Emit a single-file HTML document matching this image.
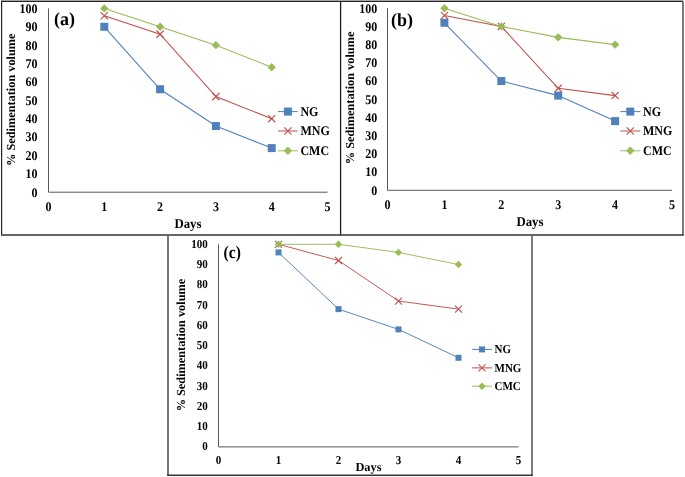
<!DOCTYPE html>
<html><head><meta charset="utf-8"><style>
html,body{margin:0;padding:0;background:#fff;}
body{width:685px;height:477px;overflow:hidden;}
svg{display:block;will-change:transform;}
text{font-family:"Liberation Serif",serif;font-weight:bold;fill:#000;text-rendering:geometricPrecision;}
</style></head><body>
<svg width="685" height="477" viewBox="0 0 685 477">
<rect x="0" y="0" width="685" height="477" fill="#fff"/>
<line x1="1" y1="0.45" x2="683.5" y2="0.45" stroke="#c4c4c4" stroke-width="0.9"/>
<path d="M1.6 235V1.4H683" fill="none" stroke="#252525" stroke-width="1.2"/>
<line x1="340.6" y1="1.4" x2="340.6" y2="235" stroke="#1e1e1e" stroke-width="1.3"/>
<line x1="683" y1="1.4" x2="683" y2="235" stroke="#666" stroke-width="1.7"/>
<line x1="1" y1="235" x2="683.8" y2="235" stroke="#333" stroke-width="1.6"/>
<line x1="168" y1="235" x2="168" y2="475.2" stroke="#6a6a6a" stroke-width="1.8"/>
<line x1="532" y1="235" x2="532" y2="475.2" stroke="#707070" stroke-width="1.8"/>
<line x1="167.1" y1="475.2" x2="532.9" y2="475.2" stroke="#363636" stroke-width="1.5"/>
<path d="M48.50 8.40V192.20H327.50" fill="none" stroke="#595959" stroke-width="1"/>
<text transform="translate(37.60,196.60) scale(1,1.1)" font-size="12" text-anchor="end">0</text>
<text transform="translate(37.60,178.22) scale(1,1.1)" font-size="12" text-anchor="end">10</text>
<text transform="translate(37.60,159.84) scale(1,1.1)" font-size="12" text-anchor="end">20</text>
<text transform="translate(37.60,141.46) scale(1,1.1)" font-size="12" text-anchor="end">30</text>
<text transform="translate(37.60,123.08) scale(1,1.1)" font-size="12" text-anchor="end">40</text>
<text transform="translate(37.60,104.70) scale(1,1.1)" font-size="12" text-anchor="end">50</text>
<text transform="translate(37.60,86.32) scale(1,1.1)" font-size="12" text-anchor="end">60</text>
<text transform="translate(37.60,67.94) scale(1,1.1)" font-size="12" text-anchor="end">70</text>
<text transform="translate(37.60,49.56) scale(1,1.1)" font-size="12" text-anchor="end">80</text>
<text transform="translate(37.60,31.18) scale(1,1.1)" font-size="12" text-anchor="end">90</text>
<text transform="translate(37.60,12.80) scale(1,1.1)" font-size="12" text-anchor="end">100</text>
<text transform="translate(48.50,210.60) scale(1,1.1)" font-size="12" text-anchor="middle">0</text>
<text transform="translate(104.30,210.60) scale(1,1.1)" font-size="12" text-anchor="middle">1</text>
<text transform="translate(160.10,210.60) scale(1,1.1)" font-size="12" text-anchor="middle">2</text>
<text transform="translate(215.90,210.60) scale(1,1.1)" font-size="12" text-anchor="middle">3</text>
<text transform="translate(271.70,210.60) scale(1,1.1)" font-size="12" text-anchor="middle">4</text>
<text transform="translate(327.50,210.60) scale(1,1.1)" font-size="12" text-anchor="middle">5</text>
<text transform="translate(188.00,227.90) scale(1,1.05)" font-size="12.8" text-anchor="middle">Days</text>
<text transform="translate(15.00,99.70) rotate(-90) scale(1,1)" text-anchor="middle" font-size="12.3">% Sedimentation volume</text>
<text transform="translate(54.00,24.80) scale(1,1.03)" font-size="18">(a)</text>
<polyline points="104.30,26.78 160.10,89.27 215.90,126.03 271.70,148.09" fill="none" stroke="#4F81BD" stroke-width="1.1"/>
<rect x="100.30" y="22.78" width="8" height="8" fill="#4F81BD"/>
<rect x="156.10" y="85.27" width="8" height="8" fill="#4F81BD"/>
<rect x="211.90" y="122.03" width="8" height="8" fill="#4F81BD"/>
<rect x="267.70" y="144.09" width="8" height="8" fill="#4F81BD"/>
<polyline points="104.30,15.75 160.10,34.13 215.90,96.62 271.70,118.68" fill="none" stroke="#C0504D" stroke-width="1.1"/>
<path d="M100.70 12.15L107.90 19.35M107.90 12.15L100.70 19.35" stroke="#C0504D" stroke-width="1.15" fill="none"/>
<path d="M156.50 30.53L163.70 37.73M163.70 30.53L156.50 37.73" stroke="#C0504D" stroke-width="1.15" fill="none"/>
<path d="M212.30 93.02L219.50 100.22M219.50 93.02L212.30 100.22" stroke="#C0504D" stroke-width="1.15" fill="none"/>
<path d="M268.10 115.08L275.30 122.28M275.30 115.08L268.10 122.28" stroke="#C0504D" stroke-width="1.15" fill="none"/>
<polyline points="104.30,8.40 160.10,26.78 215.90,45.16 271.70,67.22" fill="none" stroke="#9BBB59" stroke-width="1.1"/>
<path d="M104.30 4.20L108.50 8.40L104.30 12.60L100.10 8.40Z" fill="#9BBB59"/>
<path d="M160.10 22.58L164.30 26.78L160.10 30.98L155.90 26.78Z" fill="#9BBB59"/>
<path d="M215.90 40.96L220.10 45.16L215.90 49.36L211.70 45.16Z" fill="#9BBB59"/>
<path d="M271.70 63.02L275.90 67.22L271.70 71.42L267.50 67.22Z" fill="#9BBB59"/>
<line x1="278" y1="111.6" x2="297.6" y2="111.6" stroke="#4F81BD" stroke-width="1"/>
<rect x="283.90" y="107.60" width="8" height="8" fill="#4F81BD"/>
<text transform="translate(300.40,115.60) scale(1,1.1)" font-size="12">NG</text>
<line x1="278" y1="131" x2="297.6" y2="131" stroke="#C0504D" stroke-width="1"/>
<path d="M284.30 127.40L291.50 134.60M291.50 127.40L284.30 134.60" stroke="#C0504D" stroke-width="1.15" fill="none"/>
<text transform="translate(300.40,135.00) scale(1,1.1)" font-size="12">MNG</text>
<line x1="278" y1="150.8" x2="297.6" y2="150.8" stroke="#9BBB59" stroke-width="1"/>
<path d="M287.90 146.60L292.10 150.80L287.90 155.00L283.70 150.80Z" fill="#9BBB59"/>
<text transform="translate(300.40,154.80) scale(1,1.1)" font-size="12">CMC</text>
<path d="M387.50 8.20V190.30H672.00" fill="none" stroke="#595959" stroke-width="1"/>
<text transform="translate(377.30,194.70) scale(1,1.1)" font-size="12" text-anchor="end">0</text>
<text transform="translate(377.30,176.49) scale(1,1.1)" font-size="12" text-anchor="end">10</text>
<text transform="translate(377.30,158.28) scale(1,1.1)" font-size="12" text-anchor="end">20</text>
<text transform="translate(377.30,140.07) scale(1,1.1)" font-size="12" text-anchor="end">30</text>
<text transform="translate(377.30,121.86) scale(1,1.1)" font-size="12" text-anchor="end">40</text>
<text transform="translate(377.30,103.65) scale(1,1.1)" font-size="12" text-anchor="end">50</text>
<text transform="translate(377.30,85.44) scale(1,1.1)" font-size="12" text-anchor="end">60</text>
<text transform="translate(377.30,67.23) scale(1,1.1)" font-size="12" text-anchor="end">70</text>
<text transform="translate(377.30,49.02) scale(1,1.1)" font-size="12" text-anchor="end">80</text>
<text transform="translate(377.30,30.81) scale(1,1.1)" font-size="12" text-anchor="end">90</text>
<text transform="translate(377.30,12.60) scale(1,1.1)" font-size="12" text-anchor="end">100</text>
<text transform="translate(387.50,209.00) scale(1,1.1)" font-size="12" text-anchor="middle">0</text>
<text transform="translate(444.40,209.00) scale(1,1.1)" font-size="12" text-anchor="middle">1</text>
<text transform="translate(501.30,209.00) scale(1,1.1)" font-size="12" text-anchor="middle">2</text>
<text transform="translate(558.20,209.00) scale(1,1.1)" font-size="12" text-anchor="middle">3</text>
<text transform="translate(615.10,209.00) scale(1,1.1)" font-size="12" text-anchor="middle">4</text>
<text transform="translate(672.00,209.00) scale(1,1.1)" font-size="12" text-anchor="middle">5</text>
<text transform="translate(530.00,225.90) scale(1,1.05)" font-size="12.8" text-anchor="middle">Days</text>
<text transform="translate(354.20,97.90) rotate(-90) scale(1,1)" text-anchor="middle" font-size="12.3">% Sedimentation volume</text>
<text transform="translate(391.00,25.90) scale(1,1.03)" font-size="18">(b)</text>
<polyline points="444.40,22.77 501.30,81.04 558.20,95.61 615.10,121.10" fill="none" stroke="#4F81BD" stroke-width="1.1"/>
<rect x="440.40" y="18.77" width="8" height="8" fill="#4F81BD"/>
<rect x="497.30" y="77.04" width="8" height="8" fill="#4F81BD"/>
<rect x="554.20" y="91.61" width="8" height="8" fill="#4F81BD"/>
<rect x="611.10" y="117.10" width="8" height="8" fill="#4F81BD"/>
<polyline points="444.40,15.48 501.30,26.41 558.20,88.32 615.10,95.61" fill="none" stroke="#C0504D" stroke-width="1.1"/>
<path d="M440.80 11.88L448.00 19.08M448.00 11.88L440.80 19.08" stroke="#C0504D" stroke-width="1.15" fill="none"/>
<path d="M497.70 22.81L504.90 30.01M504.90 22.81L497.70 30.01" stroke="#C0504D" stroke-width="1.15" fill="none"/>
<path d="M554.60 84.72L561.80 91.92M561.80 84.72L554.60 91.92" stroke="#C0504D" stroke-width="1.15" fill="none"/>
<path d="M611.50 92.01L618.70 99.21M618.70 92.01L611.50 99.21" stroke="#C0504D" stroke-width="1.15" fill="none"/>
<polyline points="444.40,8.20 501.30,26.41 558.20,37.34 615.10,44.62" fill="none" stroke="#9BBB59" stroke-width="1.1"/>
<path d="M444.40 4.00L448.60 8.20L444.40 12.40L440.20 8.20Z" fill="#9BBB59"/>
<path d="M501.30 22.21L505.50 26.41L501.30 30.61L497.10 26.41Z" fill="#9BBB59"/>
<path d="M558.20 33.14L562.40 37.34L558.20 41.54L554.00 37.34Z" fill="#9BBB59"/>
<path d="M615.10 40.42L619.30 44.62L615.10 48.82L610.90 44.62Z" fill="#9BBB59"/>
<line x1="620.3" y1="111.6" x2="640.4" y2="111.6" stroke="#4F81BD" stroke-width="1"/>
<rect x="626.30" y="107.60" width="8" height="8" fill="#4F81BD"/>
<text transform="translate(643.00,115.60) scale(1,1.1)" font-size="12">NG</text>
<line x1="620.3" y1="131" x2="640.4" y2="131" stroke="#C0504D" stroke-width="1"/>
<path d="M626.70 127.40L633.90 134.60M633.90 127.40L626.70 134.60" stroke="#C0504D" stroke-width="1.15" fill="none"/>
<text transform="translate(643.00,135.00) scale(1,1.1)" font-size="12">MNG</text>
<line x1="620.3" y1="150.8" x2="640.4" y2="150.8" stroke="#9BBB59" stroke-width="1"/>
<path d="M630.30 146.60L634.50 150.80L630.30 155.00L626.10 150.80Z" fill="#9BBB59"/>
<text transform="translate(643.00,154.80) scale(1,1.1)" font-size="12">CMC</text>
<path d="M218.50 244.30V446.90H518.50" fill="none" stroke="#595959" stroke-width="1"/>
<text transform="translate(207.70,450.40) scale(1,1.1)" font-size="11" text-anchor="end">0</text>
<text transform="translate(207.70,430.14) scale(1,1.1)" font-size="11" text-anchor="end">10</text>
<text transform="translate(207.70,409.88) scale(1,1.1)" font-size="11" text-anchor="end">20</text>
<text transform="translate(207.70,389.62) scale(1,1.1)" font-size="11" text-anchor="end">30</text>
<text transform="translate(207.70,369.36) scale(1,1.1)" font-size="11" text-anchor="end">40</text>
<text transform="translate(207.70,349.10) scale(1,1.1)" font-size="11" text-anchor="end">50</text>
<text transform="translate(207.70,328.84) scale(1,1.1)" font-size="11" text-anchor="end">60</text>
<text transform="translate(207.70,308.58) scale(1,1.1)" font-size="11" text-anchor="end">70</text>
<text transform="translate(207.70,288.32) scale(1,1.1)" font-size="11" text-anchor="end">80</text>
<text transform="translate(207.70,268.06) scale(1,1.1)" font-size="11" text-anchor="end">90</text>
<text transform="translate(207.70,247.80) scale(1,1.1)" font-size="11" text-anchor="end">100</text>
<text transform="translate(218.50,464.00) scale(1,1.1)" font-size="11" text-anchor="middle">0</text>
<text transform="translate(278.50,464.00) scale(1,1.1)" font-size="11" text-anchor="middle">1</text>
<text transform="translate(338.50,464.00) scale(1,1.1)" font-size="11" text-anchor="middle">2</text>
<text transform="translate(398.50,464.00) scale(1,1.1)" font-size="11" text-anchor="middle">3</text>
<text transform="translate(458.50,464.00) scale(1,1.1)" font-size="11" text-anchor="middle">4</text>
<text transform="translate(518.50,464.00) scale(1,1.1)" font-size="11" text-anchor="middle">5</text>
<text x="368.50" y="471.00" font-size="12.4" text-anchor="middle">Days</text>
<text transform="translate(184.80,345.10) rotate(-90) scale(1,1)" text-anchor="middle" font-size="12.3">% Sedimentation volume</text>
<text transform="translate(223.60,257.60) scale(1,1.13)" font-size="15.5">(c)</text>
<polyline points="278.50,252.40 338.50,309.13 398.50,329.39 458.50,357.76" fill="none" stroke="#4F81BD" stroke-width="0.95"/>
<rect x="275.50" y="249.40" width="6" height="6" fill="#4F81BD"/>
<rect x="335.50" y="306.13" width="6" height="6" fill="#4F81BD"/>
<rect x="395.50" y="326.39" width="6" height="6" fill="#4F81BD"/>
<rect x="455.50" y="354.76" width="6" height="6" fill="#4F81BD"/>
<polyline points="278.50,244.30 338.50,260.51 398.50,301.03 458.50,309.13" fill="none" stroke="#C0504D" stroke-width="0.95"/>
<path d="M275.00 240.80L282.00 247.80M282.00 240.80L275.00 247.80" stroke="#C0504D" stroke-width="1.1" fill="none"/>
<path d="M335.00 257.01L342.00 264.01M342.00 257.01L335.00 264.01" stroke="#C0504D" stroke-width="1.1" fill="none"/>
<path d="M395.00 297.53L402.00 304.53M402.00 297.53L395.00 304.53" stroke="#C0504D" stroke-width="1.1" fill="none"/>
<path d="M455.00 305.63L462.00 312.63M462.00 305.63L455.00 312.63" stroke="#C0504D" stroke-width="1.1" fill="none"/>
<polyline points="278.50,244.30 338.50,244.30 398.50,252.40 458.50,264.56" fill="none" stroke="#9BBB59" stroke-width="0.95"/>
<path d="M278.50 240.60L282.20 244.30L278.50 248.00L274.80 244.30Z" fill="#9BBB59"/>
<path d="M338.50 240.60L342.20 244.30L338.50 248.00L334.80 244.30Z" fill="#9BBB59"/>
<path d="M398.50 248.70L402.20 252.40L398.50 256.10L394.80 252.40Z" fill="#9BBB59"/>
<path d="M458.50 260.86L462.20 264.56L458.50 268.26L454.80 264.56Z" fill="#9BBB59"/>
<line x1="472" y1="349.4" x2="492" y2="349.4" stroke="#4F81BD" stroke-width="1"/>
<rect x="479.00" y="346.40" width="6" height="6" fill="#4F81BD"/>
<text transform="translate(494.50,353.10) scale(1,1.1)" font-size="11">NG</text>
<line x1="472" y1="367.9" x2="492" y2="367.9" stroke="#C0504D" stroke-width="1"/>
<path d="M478.50 364.40L485.50 371.40M485.50 364.40L478.50 371.40" stroke="#C0504D" stroke-width="1.1" fill="none"/>
<text transform="translate(494.50,371.60) scale(1,1.1)" font-size="11">MNG</text>
<line x1="472" y1="386.2" x2="492" y2="386.2" stroke="#9BBB59" stroke-width="1"/>
<path d="M482.00 382.50L485.70 386.20L482.00 389.90L478.30 386.20Z" fill="#9BBB59"/>
<text transform="translate(494.50,389.90) scale(1,1.1)" font-size="11">CMC</text>
</svg>
</body></html>
